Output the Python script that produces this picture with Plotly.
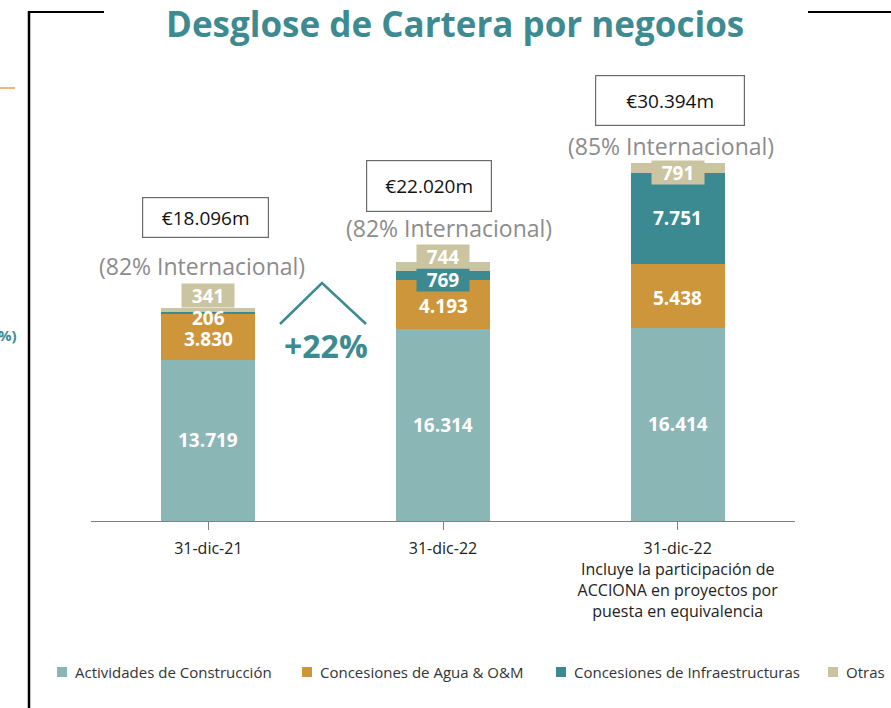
import plotly.graph_objects as go

categories = ["31-dic-21", "31-dic-22", "31-dic-22b"]
tick_labels = ["31-dic-21", "31-dic-22",
               "31-dic-22<br>Incluye la participación de<br>ACCIONA en proyectos por<br>puesta en equivalencia"]
series_names = ["Actividades de Construcción", "Concesiones de Agua & O&M",
                "Concesiones de Infraestructuras", "Otras"]
construccion = [13719, 16314, 16414]
agua = [3830, 4193, 5438]
infra = [206, 769, 7751]
otras = [341, 744, 791]
totales_txt = ["€18.096m", "€22.020m", "€30.394m"]
internacional_txt = ["(82% Internacional)", "(82% Internacional)", "(85% Internacional)"]
crecimiento_txt = "+22%"

C_CONS = "#8bb6b6"
C_AGUA = "#cd963a"
C_INFRA = "#3b8a92"
C_OTRAS = "#cbc4a0"
TEAL = "#3d8b90"
colors = [C_CONS, C_AGUA, C_INFRA, C_OTRAS]

W, H = 891, 708
L, R, T, B = 91, 96, 60, 187
PW, PH = W - L - R, H - T - B


def px(x):
    return (x - L) / PW


def py(y):
    return (H - B - y) / PH


fmt = lambda v: f"{v:,}".replace(",", ".")

x = list(range(len(categories)))
fig = go.Figure()
for name, vals, col in zip(series_names, [construccion, agua, infra, otras], colors):
    fig.add_trace(go.Bar(x=x, y=vals, name=name, marker=dict(color=col, line=dict(width=0)),
                         width=0.4, hoverinfo="skip", showlegend=False))

ann = []
FONT = "Open Sans"
lab_font = dict(family=FONT, size=19, color="white")
for i in x:
    segs = [construccion[i], agua[i], infra[i], otras[i]]
    tops = []
    base = 0
    for v in segs:
        base += v
        tops.append(base)
    total = base
    ann.append(dict(x=i, y=construccion[i] / 2, text=f"<b>{fmt(construccion[i])}</b>",
                    showarrow=False, font=lab_font))
    ann.append(dict(x=i, y=construccion[i] + agua[i] / 2, yshift=-2, text=f"<b>{fmt(agua[i])}</b>",
                    showarrow=False, font=lab_font))
    if i == 0:
        ann.append(dict(x=i, y=tops[1], yshift=-4, text=f"<b>{fmt(infra[i])}</b>",
                        showarrow=False, font=lab_font))
    elif i == 1:
        ann.append(dict(x=i, y=tops[2] - infra[i] / 2, yshift=-5, text=f"<b>{fmt(infra[i])}</b>",
                        showarrow=False, font=lab_font, bgcolor=C_INFRA, width=50, height=20))
    else:
        ann.append(dict(x=i, y=tops[1] + infra[i] / 2, text=f"<b>{fmt(infra[i])}</b>",
                        showarrow=False, font=lab_font))
    oshift = [13, 10, -5][i]
    ann.append(dict(x=i, y=total if i == 0 else tops[2] + otras[i] / 2, yshift=oshift,
                    text=f"<b>{fmt(otras[i])}</b>", showarrow=False, font=lab_font,
                    bgcolor=C_OTRAS, width=50, height=21))
    bshift = [91, 76, 63][i]
    bx = [-3, -14, -8][i]
    bw = [123, 122, 146][i]
    bh = [37, 48, 47][i]
    ann.append(dict(x=i, y=total, yshift=bshift, xshift=bx, text=totales_txt[i], showarrow=False,
                    font=dict(family=FONT, size=19, color="#111"), bgcolor="white",
                    bordercolor="#6a6a6a", borderwidth=1.2, width=bw, height=bh))
    ishift = [42, 34, 17][i]
    ix = [-6, 6, -7][i]
    ann.append(dict(x=i, y=total, yshift=ishift, xshift=ix, text=internacional_txt[i], showarrow=False,
                    font=dict(family=FONT, size=23, color="#8c8c8c")))

ann.append(dict(xref="paper", yref="paper", x=px(455), y=py(23), xanchor="center", yanchor="middle",
                text="<b>Desglose de Cartera por negocios</b>",
                showarrow=False, font=dict(family=FONT, size=35, color=TEAL)))
ann.append(dict(xref="paper", yref="paper", x=px(326), y=py(345), xanchor="center", yanchor="middle",
                text=f"<b>{crecimiento_txt}</b>",
                showarrow=False, font=dict(family=FONT, size=32, color=TEAL)))
ann.append(dict(xref="paper", yref="paper", x=px(19), y=py(335), xanchor="right", yanchor="middle",
                text="<b>%)</b>", showarrow=False, font=dict(family=FONT, size=15, color=TEAL)))

leg_sq_x = [62, 307, 561, 833]
shapes = []
for name, col, sx in zip(series_names, colors, leg_sq_x):
    shapes.append(dict(type="rect", xref="paper", yref="paper", x0=px(sx - 5), x1=px(sx + 5),
                       y0=py(677), y1=py(667), fillcolor=col, line=dict(width=0)))
    ann.append(dict(xref="paper", yref="paper", x=px(sx + 11), y=py(672), xanchor="left",
                    yanchor="middle", text=name, showarrow=False,
                    font=dict(family=FONT, size=15, color="#333")))

shapes += [
    dict(type="path", xref="paper", yref="paper",
         path=f"M {px(280)} {py(324)} L {px(322)} {py(283)} L {px(366)} {py(324)}",
         line=dict(color=TEAL, width=2.5)),
    dict(type="line", xref="paper", yref="paper", x0=px(29), x1=px(29), y0=py(11), y1=py(708),
         line=dict(color="black", width=2.5)),
    dict(type="line", xref="paper", yref="paper", x0=px(28), x1=px(104), y0=py(12), y1=py(12),
         line=dict(color="black", width=2)),
    dict(type="line", xref="paper", yref="paper", x0=px(808), x1=px(891), y0=py(12), y1=py(12),
         line=dict(color="black", width=2)),
    dict(type="line", xref="paper", yref="paper", x0=px(0), x1=px(15), y0=py(88), y1=py(88),
         line=dict(color="#e2a54a", width=1.5)),
]

fig.update_layout(
    barmode="stack",
    width=W, height=H,
    margin=dict(l=L, r=R, t=T, b=B),
    paper_bgcolor="white", plot_bgcolor="white",
    annotations=ann, shapes=shapes,
    showlegend=False,
    xaxis=dict(range=[-0.5, 2.5], tickvals=x, ticktext=tick_labels, showline=True, linecolor="#7f7f7f",
               linewidth=1.2, ticks="outside", tickson="boundaries", ticklen=8, tickcolor="#7f7f7f",
               ticklabelstandoff=5,
               showgrid=False, zeroline=False, fixedrange=True,
               tickfont=dict(family=FONT, size=16, color="#222")),
    yaxis=dict(range=[0, 39170], visible=False, showgrid=False, zeroline=False, fixedrange=True),
)

fig.write_html("out.html", config={"displayModeBar": False},
               post_script="document.body.style.margin='0px';")
